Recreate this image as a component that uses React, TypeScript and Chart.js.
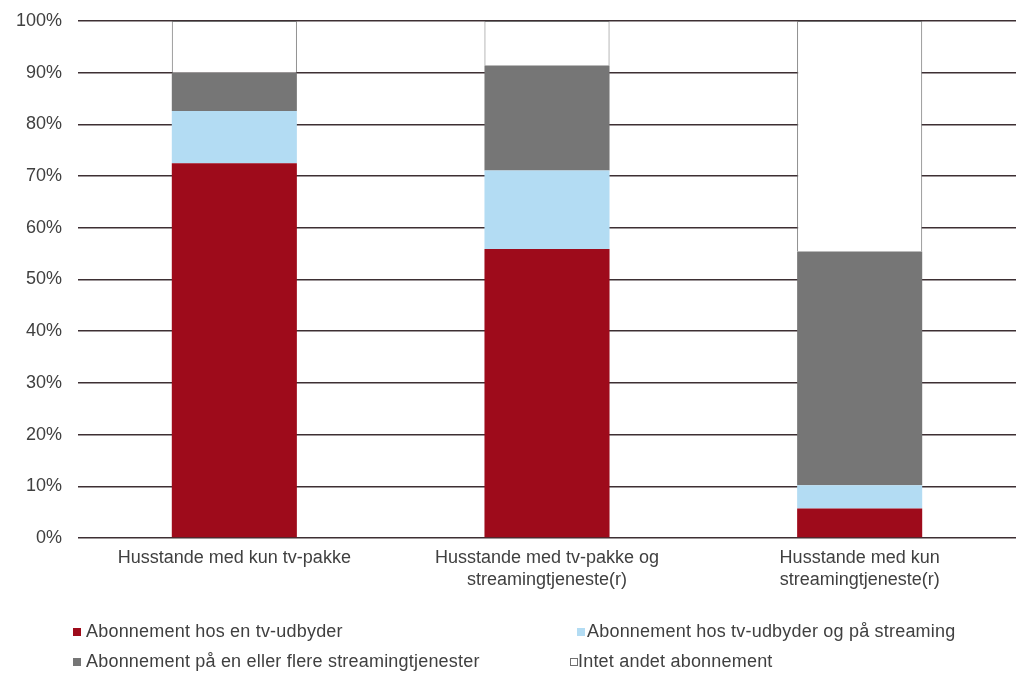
import React, { useEffect, useRef } from "react";
import { Chart, registerables } from "chart.js";

Chart.register(...registerables);

const categories: string[][] = [
  ["Husstande med kun tv-pakke"],
  ["Husstande med tv-pakke og", "streamingtjeneste(r)"],
  ["Husstande med kun", "streamingtjeneste(r)"],
];

const seriesNames = [
  "Abonnement hos en tv-udbyder",
  "Abonnement hos tv-udbyder og på streaming",
  "Abonnement på en eller flere streamingtjenester",
  "Intet andet abonnement",
];

const tvOnly = [72.5, 55.9, 5.7];
const tvAndStreaming = [10.1, 15.2, 4.5];
const streamingOnly = [7.4, 20.3, 45.2];
const noOther = [10.0, 8.6, 44.6];

const yTicks = [0, 10, 20, 30, 40, 50, 60, 70, 80, 90, 100];

const colors = ["#9e0b1b", "#b3dcf3", "#767676", "#ffffff"];

const FONT = '"Liberation Sans", Arial, sans-serif';
const TEXT = "#404040";

// legend placement (row, column order as in the reference)
const legendItems = [
  { idx: 0, mx: 73, tx: 86, y: 631 },
  { idx: 1, mx: 577, tx: 587, y: 631 },
  { idx: 2, mx: 73, tx: 86, y: 661 },
  { idx: 3, mx: 570, tx: 578, y: 661 },
];

export default function App() {
  const ref = useRef<HTMLCanvasElement | null>(null);

  useEffect(() => {
    if (!ref.current) return;
    const values = [tvOnly, tvAndStreaming, streamingOnly, noOther];
    const chart = new Chart(ref.current, {
      type: "bar",
      data: {
        labels: categories,
        datasets: values.map((v, i) => ({
          label: seriesNames[i],
          data: v,
          backgroundColor: colors[i],
          borderColor: i === 3 ? "#707070" : colors[i],
          borderWidth: i === 3 ? 1 : 0,
          borderSkipped: "start",
          barPercentage: 0.4,
          categoryPercentage: 1,
        })),
      },
      options: {
        responsive: false,
        animation: false,
        maintainAspectRatio: false,
        layout: { padding: { top: 21, right: 3, left: 0, bottom: 0 } },
        plugins: {
          legend: { display: false },
          tooltip: { enabled: false },
        },
        scales: {
          x: {
            stacked: true,
            grid: { display: false, drawTicks: false },
            border: { display: false },
            ticks: {
              color: TEXT,
              font: { family: FONT, size: 18, lineHeight: 1.22 },
              padding: 9,
              maxRotation: 0,
              autoSkip: false,
            },
            afterFit: (scale: any) => {
              scale.height = 142;
              scale.paddingLeft = 0;
              scale.paddingRight = 0;
            },
          },
          y: {
            stacked: true,
            min: 0,
            max: 100,
            afterBuildTicks: (scale: any) => {
              scale.ticks = yTicks.map((v) => ({ value: v }));
            },
            grid: {
              color: "#3d2f33",
              lineWidth: 1.5,
              drawTicks: false,
            },
            border: { display: false },
            ticks: {
              color: TEXT,
              font: { family: FONT, size: 18 },
              padding: 16,
              callback: (v: any) => v + "%",
            },
            afterFit: (scale: any) => {
              scale.width = 78;
              scale.paddingTop = 0;
              scale.paddingBottom = 0;
            },
          },
        },
      },
    });
    return () => chart.destroy();
  }, []);

  return (
    <div
      style={{
        position: "fixed",
        left: 0,
        top: 0,
        width: 1019,
        height: 680,
        background: "#ffffff",
        fontFamily: FONT,
      }}
    >
      <canvas ref={ref} width={1019} height={680} style={{ display: "block" }} />
      {legendItems.map((it) => (
        <React.Fragment key={it.idx}>
          <div
            style={{
              position: "absolute",
              left: it.mx,
              top: it.y - 3,
              width: 8,
              height: 8,
              boxSizing: "border-box",
              background: colors[it.idx],
              border: it.idx === 3 ? "1px solid #707070" : "none",
            }}
          />
          <div
            style={{
              position: "absolute",
              left: it.tx,
              top: it.y - 11,
              height: 22,
              lineHeight: "22px",
              fontSize: 18,
              letterSpacing: "0.2px",
              color: TEXT,
              whiteSpace: "nowrap",
            }}
          >
            {seriesNames[it.idx]}
          </div>
        </React.Fragment>
      ))}
    </div>
  );
}
